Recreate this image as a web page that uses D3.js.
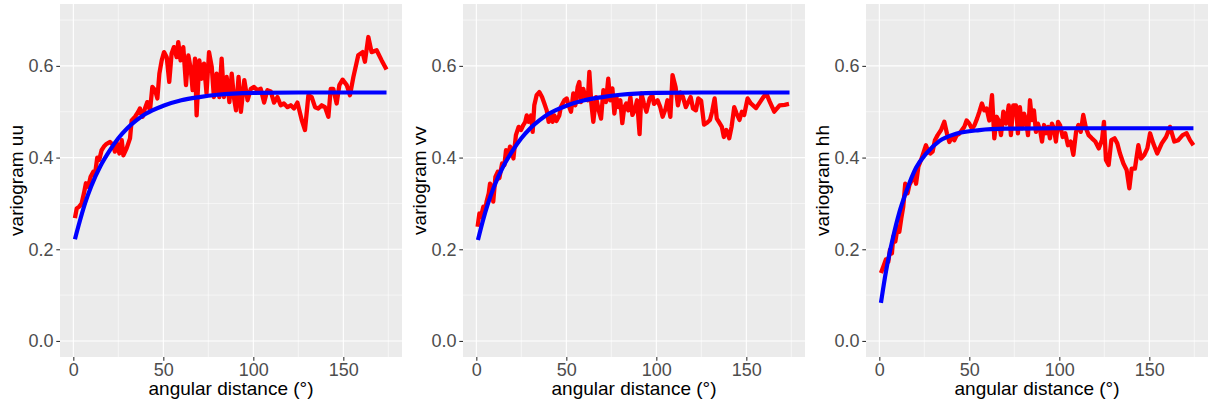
<!DOCTYPE html>
<html>
<head>
<meta charset="utf-8">
<script src="https://cdn.jsdelivr.net/npm/d3@7"></script>
<style>
  html, body { margin: 0; padding: 0; background: #ffffff; }
  svg { display: block; font-family: "Liberation Sans", Arial, Helvetica, sans-serif; }
</style>
</head>
<body>
<svg id="chart" width="1209" height="405"></svg>
<script>
// ---- axis ticks and labels ----
const xTicks = [0, 50, 100, 150];
const xMinor = [25, 75, 125, 175];
const yTicks = [0, 0.2, 0.4, 0.6];
const yMinor = [0.1, 0.3, 0.5, 0.7];
const xTitle = "angular distance (°)";
const components = ["uu", "vv", "hh"];

// ---- empirical variograms: [angular distance (deg), semivariance] ----
const empiricalUU = [
  [0.9,0.268],[1.9,0.289],[3.3,0.293],[4.6,0.30],[5.9,0.322],[7,0.344],[8.3,0.336],[9.6,0.358],
  [11.1,0.369],[12,0.362],[13.3,0.40],[14.4,0.395],[15.7,0.416],[17,0.424],[18.5,0.43],[20.4,0.434],
  [22,0.428],[23.1,0.413],[24,0.434],[25.6,0.409],[26.9,0.438],[27.8,0.405],[29.6,0.42],[31.5,0.442],
  [32.4,0.481],[34.3,0.489],[36.1,0.5],[37,0.507],[38.5,0.489],[39.8,0.507],[41.1,0.521],[42.6,0.503],
  [43.9,0.554],[45.4,0.547],[46.7,0.529],[47.8,0.583],[49.1,0.612],[50.4,0.63],[51.9,0.619],[53.3,0.565],
  [54.6,0.627],[55.9,0.641],[57.4,0.619],[58.3,0.652],[59.6,0.612],[61.1,0.641],[62.6,0.558],[63.9,0.623],
  [65.2,0.594],[66.3,0.547],[67.6,0.616],[68.5,0.492],[70,0.612],[71.3,0.572],[72.6,0.605],[74,0.54],
  [75.4,0.63],[76.9,0.598],[78.1,0.532],[79.6,0.583],[81.1,0.532],[82.4,0.616],[83.7,0.532],[85.2,0.576],
  [86.7,0.521],[88,0.583],[89.3,0.529],[90.4,0.503],[91.8,0.576],[93.1,0.5],[95,0.569],[96.8,0.525],
  [98.6,0.55],[100.4,0.554],[102.2,0.547],[104.1,0.55],[106,0.52],[107.8,0.547],[109.7,0.544],[111.5,0.52],
  [113.4,0.532],[115.2,0.514],[117,0.518],[119,0.51],[120.8,0.514],[122.6,0.507],[124.5,0.52],[126.9,0.482],
  [128.7,0.46],[130.6,0.536],[132.4,0.532],[134.3,0.51],[136.1,0.507],[138,0.514],[139.8,0.51],[141.7,0.489],
  [143,0.55],[144.4,0.55],[146.3,0.518],[147.8,0.558],[149.6,0.57],[151.9,0.558],[153.7,0.536],[155.6,0.576],
  [158.3,0.623],[160.7,0.63],[162,0.609],[163.9,0.663],[165.7,0.63],[168.5,0.634],[171.3,0.612],[174,0.592]
];
const empiricalVV = [
  [0.7,0.249],[1.7,0.278],[2.6,0.271],[3.9,0.293],[5,0.286],[5.7,0.304],[6.9,0.322],[7.6,0.343],
  [8.7,0.336],[9.4,0.304],[10.6,0.358],[11.9,0.369],[12.8,0.355],[14.3,0.387],[15.6,0.384],[16.5,0.416],
  [17.8,0.402],[18.7,0.424],[19.8,0.416],[20.6,0.398],[22,0.449],[23.5,0.467],[24.8,0.46],[26.1,0.471],
  [27.2,0.478],[28,0.492],[29.1,0.478],[30.4,0.492],[31.3,0.456],[32.2,0.514],[33.5,0.536],[35,0.543],
  [36.5,0.532],[37.8,0.518],[39.1,0.503],[40.2,0.478],[41.5,0.496],[42.4,0.478],[43.3,0.492],[44.5,0.48],
  [46.1,0.492],[47,0.511],[48.9,0.525],[50.2,0.529],[51.3,0.514],[52.6,0.5],[53.9,0.54],[55,0.514],
  [56.3,0.554],[57.2,0.565],[58.1,0.521],[59.4,0.55],[60.6,0.532],[61.9,0.525],[62.8,0.587],[63.9,0.518],
  [65,0.478],[66.5,0.532],[68,0.503],[69.3,0.485],[70.6,0.547],[72,0.521],[73.3,0.572],[74.4,0.525],
  [75.6,0.551],[76.7,0.496],[77.8,0.532],[78.9,0.51],[80,0.525],[81.1,0.475],[82.2,0.51],[83.3,0.518],
  [84.4,0.503],[85.6,0.532],[86.7,0.493],[88,0.503],[89.3,0.525],[90.7,0.451],[91.7,0.54],[93,0.52],
  [94.5,0.5],[96.3,0.529],[97.8,0.536],[98.7,0.517],[100.7,0.525],[102.2,0.51],[103.5,0.489],[105.2,0.507],
  [106.2,0.525],[107.8,0.489],[109,0.58],[110.7,0.554],[112,0.514],[113.5,0.542],[114.8,0.532],[116.4,0.51],
  [117.6,0.52],[119.1,0.532],[120.4,0.507],[122,0.503],[123.3,0.529],[124.9,0.524],[126.5,0.472],[128.2,0.476],
  [129.8,0.482],[131,0.5],[132.4,0.529],[133.6,0.485],[135,0.476],[136.4,0.467],[137.5,0.445],[138.9,0.46],
  [140.5,0.442],[141.8,0.467],[143.3,0.51],[144.6,0.496],[146.2,0.482],[147.5,0.5],[148.8,0.493],[150.7,0.529],
  [152.5,0.518],[155.4,0.508],[157.8,0.522],[159.5,0.532],[161.1,0.54],[163,0.522],[165.5,0.5],[168.5,0.514],
  [171.3,0.515],[173.7,0.517]
];
const empiricalHH = [
  [0.9,0.148],[2.2,0.162],[3.7,0.178],[5,0.173],[5.9,0.199],[7,0.191],[7.8,0.228],[8.9,0.217],
  [10.2,0.249],[11.1,0.238],[12.2,0.267],[13.3,0.293],[14.4,0.343],[15.7,0.322],[16.7,0.34],[18.1,0.351],
  [19.4,0.362],[20.4,0.343],[21.7,0.38],[23.1,0.394],[24.4,0.409],[25.9,0.427],[27.2,0.413],[28.3,0.409],
  [29.6,0.413],[30.9,0.438],[32.4,0.449],[34.3,0.46],[36.1,0.478],[37.6,0.452],[38.9,0.434],[40.4,0.445],
  [41.7,0.438],[43,0.449],[44.4,0.452],[45.9,0.46],[47.2,0.467],[48.5,0.481],[50,0.474],[51.5,0.463],
  [52.8,0.47],[54.3,0.485],[55.6,0.5],[57,0.518],[58.3,0.503],[59.6,0.507],[61.1,0.481],[62.6,0.536],
  [63.9,0.442],[65.2,0.489],[66.3,0.481],[67.6,0.449],[68.9,0.5],[70.4,0.474],[71.9,0.514],[73.1,0.449],
  [74.4,0.514],[75.9,0.514],[77,0.453],[78.1,0.51],[79.3,0.464],[80.4,0.496],[81.5,0.482],[82.6,0.449],
  [83.7,0.525],[84.8,0.482],[85.9,0.503],[87,0.456],[88.1,0.474],[89.3,0.46],[90.4,0.435],[91.5,0.471],
  [92.6,0.453],[93.7,0.467],[94.8,0.442],[95.9,0.474],[97,0.464],[98.1,0.435],[99.3,0.478],[100.4,0.471],
  [101.9,0.445],[103.3,0.453],[104.8,0.427],[106.3,0.435],[107.8,0.406],[109.3,0.456],[110.6,0.471],[111.9,0.456],
  [113.3,0.493],[114.8,0.464],[116.3,0.449],[118.1,0.442],[120,0.435],[121.9,0.42],[123.7,0.438],[124.8,0.478],
  [125.9,0.395],[127.4,0.384],[128.9,0.438],[130.7,0.442],[132.2,0.431],[133.7,0.409],[135.6,0.387],[137.4,0.373],
  [138.9,0.333],[140.2,0.376],[142,0.376],[143.9,0.427],[145.4,0.398],[147.2,0.406],[148.9,0.42],[150.4,0.453],
  [152.2,0.431],[154.4,0.409],[156.9,0.431],[159.3,0.445],[161.5,0.467],[163.9,0.435],[166.1,0.438],[168.5,0.449],
  [170.7,0.453],[172.6,0.438],[174.5,0.427]
];

// ---- fitted model curves, sampled along the distance axis ----
const modelUU = [
  [0.9,0.222],[3.5,0.26],[6.5,0.3],[10,0.338],[15,0.381],[20,0.414],[25,0.442],[30,0.464],
  [35,0.481],[40,0.495],[50,0.513],[60,0.525],[70,0.532],[80,0.537],[100,0.541],[125,0.542],[174,0.542]
];
const modelVV = [
  [0.9,0.22],[3.5,0.26],[6.5,0.3],[10,0.338],[15,0.381],[20,0.414],[25,0.442],[30,0.464],
  [35,0.481],[40,0.495],[50,0.513],[60,0.525],[70,0.532],[80,0.537],[100,0.541],[125,0.542],[174,0.542]
];
const modelHH = [
  [0.9,0.083],[3.7,0.152],[7.4,0.222],[11.1,0.28],[14.8,0.324],[20.4,0.378],[25.9,0.408],
  [33.3,0.436],[42.6,0.452],[55.6,0.46],[70,0.463],[100,0.464],[174.5,0.464]
];

const empirical = { uu: empiricalUU, vv: empiricalVV, hh: empiricalHH };
const model = { uu: modelUU, vv: modelVV, hh: modelHH };

// ---- layout ----
const panelLefts = [60, 463, 866];
const panelTop = 4, panelW = 342, panelH = 353;
const xDomain = [-7.4, 182.6];
const yDomain = [-0.035, 0.735];

const svg = d3.select("#chart");
const x = d3.scaleLinear().domain(xDomain).range([0, panelW]);
const y = d3.scaleLinear().domain(yDomain).range([panelH, 0]);

const line = d3.line().x(d => x(d[0])).y(d => y(d[1]));
const smooth = d3.line().x(d => x(d[0])).y(d => y(d[1])).curve(d3.curveMonotoneX);

components.forEach((comp, i) => {
  const g = svg.append("g").attr("transform", `translate(${panelLefts[i]},${panelTop})`);

  g.append("rect").attr("width", panelW).attr("height", panelH).attr("fill", "#EBEBEB");

  // minor grid
  g.selectAll(".vminor").data(xMinor).join("line")
    .attr("x1", d => x(d)).attr("x2", d => x(d)).attr("y1", 0).attr("y2", panelH)
    .attr("stroke", "#ffffff").attr("stroke-width", 0.55);
  g.selectAll(".hminor").data(yMinor).join("line")
    .attr("x1", 0).attr("x2", panelW).attr("y1", d => y(d)).attr("y2", d => y(d))
    .attr("stroke", "#ffffff").attr("stroke-width", 0.55);
  // major grid
  g.selectAll(".vmajor").data(xTicks).join("line")
    .attr("x1", d => x(d)).attr("x2", d => x(d)).attr("y1", 0).attr("y2", panelH)
    .attr("stroke", "#ffffff").attr("stroke-width", 1.1);
  g.selectAll(".hmajor").data(yTicks).join("line")
    .attr("x1", 0).attr("x2", panelW).attr("y1", d => y(d)).attr("y2", d => y(d))
    .attr("stroke", "#ffffff").attr("stroke-width", 1.1);

  // empirical variogram
  g.append("path").datum(empirical[comp]).attr("d", line)
    .attr("fill", "none").attr("stroke", "#FF0000").attr("stroke-width", 4.3)
    .attr("stroke-linejoin", "round").attr("stroke-linecap", "butt");
  // fitted model
  g.append("path").datum(model[comp]).attr("d", smooth)
    .attr("fill", "none").attr("stroke", "#0000FF").attr("stroke-width", 4.2)
    .attr("stroke-linejoin", "round").attr("stroke-linecap", "butt");

  // axes
  const xAxis = g.append("g").attr("transform", `translate(0,${panelH})`)
    .call(d3.axisBottom(x).tickValues(xTicks).tickSize(3.7).tickPadding(2.9).tickFormat(d3.format("d")));
  const yAxis = g.append("g")
    .call(d3.axisLeft(y).tickValues(yTicks).tickSize(3.7).tickPadding(2.9).tickFormat(d3.format(".1f")));
  [xAxis, yAxis].forEach(a => {
    a.select(".domain").remove();
    a.selectAll(".tick line").attr("stroke", "#333333").attr("stroke-width", 1.1);
    a.selectAll(".tick text").attr("fill", "#4D4D4D").style("font-size", "18px")
      .style("font-family", "'Liberation Sans', Arial, Helvetica, sans-serif");
  });

  // axis titles
  g.append("text").attr("x", panelW / 2).attr("y", 391)
    .attr("text-anchor", "middle").attr("fill", "#000").style("font-size", "19px")
    .text(xTitle);
  g.append("text")
    .attr("transform", `translate(-37,${panelH / 2}) rotate(-90)`)
    .attr("text-anchor", "middle").attr("fill", "#000").style("font-size", "19px")
    .text("variogram " + comp);
});
</script>
</body>
</html>
